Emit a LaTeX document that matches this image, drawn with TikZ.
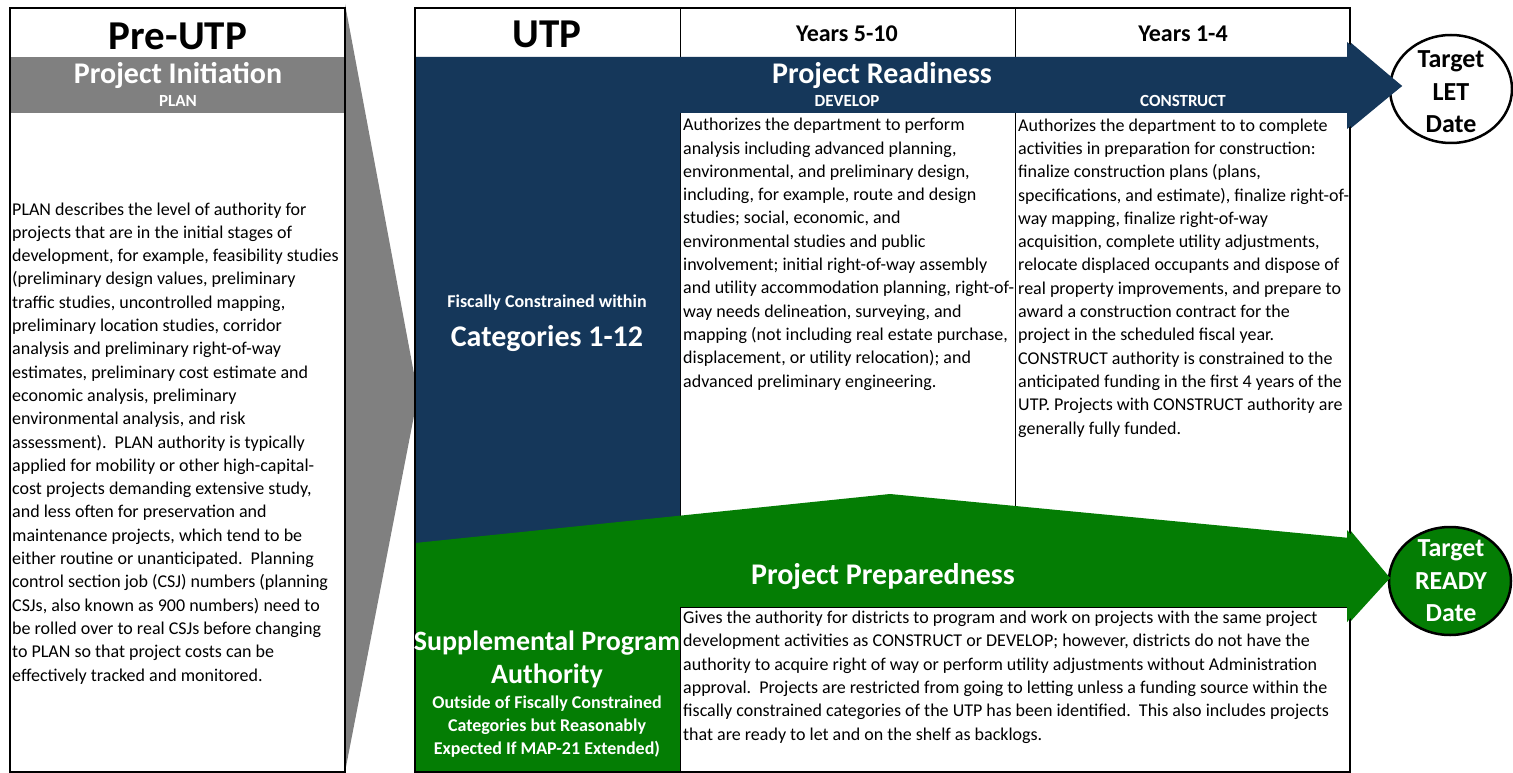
\documentclass[tikz,border=0pt]{standalone}
\usepackage{fontspec}
\setmainfont{Carlito}
\usetikzlibrary{shapes.geometric}
\definecolor{navy}{HTML}{15375A}
\definecolor{grn}{HTML}{047D04}
\definecolor{gry}{HTML}{808080}
\tikzset{
  hdr/.style={font=\bfseries\fontsize{41}{44}\selectfont, anchor=base, inner sep=0},
  yr/.style={font=\bfseries\fontsize{24}{26}\selectfont, anchor=base, inner sep=0},
  big/.style={font=\bfseries\fontsize{30}{32}\selectfont, text=white, anchor=base, inner sep=0},
  tiny/.style={font=\bfseries\fontsize{17}{19}\selectfont, text=white, anchor=base, inner sep=0},
  mid/.style={font=\bfseries\fontsize{18}{23}\selectfont, text=white, anchor=base, inner sep=0},
  body/.style={font=\fontsize{18}{23.3}\selectfont, align=left, anchor=base west, inner sep=0},
  tgt/.style={ellipse, draw=black, line width=2.5pt, minimum width=122pt, minimum height=108pt, inner sep=0},
  tgttxt/.style={font=\bfseries\fontsize{26}{30}\selectfont, anchor=base, inner sep=0},
  frame/.style={draw=black, line width=2.5pt},
  divider/.style={draw=black, line width=1pt}
}
\begin{document}
\begin{tikzpicture}[x=1pt,y=-1pt]
\useasboundingbox (0,0) rectangle (1513,773);

% gray wedge between panels
\fill[gry] (345,4) -- (418,395) -- (345,772) -- cycle;

% ---------- Pre-UTP panel ----------
\fill[white] (10,8) rectangle (345,772);
\fill[gry] (10,57) rectangle (345,113);
\draw[frame] (10,8) rectangle (345,772);
\node[hdr] (preutp) at (178,50) {Pre-UTP};
\node[big] (init) at (178,84) {Project Initiation};
\node[tiny] (plan) at (178,107) {PLAN};
% (base anchor = baseline of the last line)
\node[body] (plantext) at (12,681) {PLAN describes the level of authority for\\
projects that are in the initial stages of\\
development, for example, feasibility studies\\
(preliminary design values, preliminary\\
traffic studies, uncontrolled mapping,\\
preliminary location studies, corridor\\
analysis and preliminary right-of-way\\
estimates, preliminary cost estimate and\\
economic analysis, preliminary\\
environmental analysis, and risk\\
assessment).\ \ PLAN authority is typically\\
applied for mobility or other high-capital-\\
cost projects demanding extensive study,\\
and less often for preservation and\\
maintenance projects, which tend to be\\
either routine or unanticipated.\ \ Planning\\
control section job (CSJ) numbers (planning\\
CSJs, also known as 900 numbers) need to\\
be rolled over to real CSJs before changing\\
to PLAN so that project costs can be\\
effectively tracked and monitored.};

% ---------- UTP panel ----------
\fill[white] (415,8) rectangle (1350,772);
\draw[divider] (680,8) -- (680,560);
\draw[divider] (1015,8) -- (1015,560);

% Target ellipses
\node[tgt, fill=white] (letdate) at (1451,89) {};
\node[tgt, fill=grn] (readydate) at (1450,581) {};

% Project Readiness (blue) arrow
\fill[navy] (415,57) -- (1350,57) -- (1350,42) -- (1402,86) -- (1350,129)
  -- (1350,113) -- (680,113) -- (680,560) -- (415,560) -- cycle;
% Project Preparedness (green) arrow
\fill[grn] (415,543) -- (890,494) -- (1350,538) -- (1350,530) -- (1390,578)
  -- (1350,622) -- (1350,607) -- (680,607) -- (680,772) -- (415,772) -- cycle;
\draw[divider, fill=white] (680,607) rectangle (1350,772);

\draw[frame] (415,8) rectangle (1350,772);
% arrowheads over the frame
\fill[navy] (1347,42) -- (1402,86) -- (1347,129) -- cycle;
\fill[grn] (1347,530) -- (1390,578) -- (1347,622) -- cycle;

% header texts
\node[hdr] (utp) at (547,48) {UTP};
\node[yr] (y510) at (847,42) {Years 5-10};
\node[yr] (y14) at (1183,42) {Years 1-4};

\node[big] (readiness) at (882,84) {Project Readiness};
\node[tiny] (develop) at (847,107) {DEVELOP};
\node[tiny] (construct) at (1183,107) {CONSTRUCT};

\node[mid] (fiscal) at (547,307) {Fiscally Constrained within};
\node[big] (cat) at (547,346) {Categories 1-12};

\node[body] (devtext) at (683,387) {Authorizes the department to perform\\
analysis including advanced planning,\\
environmental, and preliminary design,\\
including, for example, route and design\\
studies; social, economic, and\\
environmental studies and public\\
involvement; initial right-of-way assembly\\
and utility accommodation planning, right-of-\\
way needs delineation, surveying, and\\
mapping (not including real estate purchase,\\
displacement, or utility relocation); and\\
advanced preliminary engineering.};

\node[body] (context) at (1018,434) {Authorizes the department to to complete\\
activities in preparation for construction:\\
finalize construction plans (plans,\\
specifications, and estimate), finalize right-of-\\
way mapping, finalize right-of-way\\
acquisition, complete utility adjustments,\\
relocate displaced occupants and dispose of\\
real property improvements, and prepare to\\
award a construction contract for the\\
project in the scheduled fiscal year.\\
CONSTRUCT authority is constrained to the\\
anticipated funding in the first 4 years of the\\
UTP. Projects with CONSTRUCT authority are\\
generally fully funded.};

\node[big] (preparedness) at (883,584) {Project Preparedness};
\node[big, font=\bfseries\fontsize{28}{30}\selectfont] (supp) at (547,650) {Supplemental Program};
\node[big, font=\bfseries\fontsize{28}{30}\selectfont] (auth) at (547,683) {Authority};
\node[mid] (out1) at (547,708) {Outside of Fiscally Constrained};
\node[mid] (out2) at (547,731) {Categories but Reasonably};
\node[mid] (out3) at (547,754) {Expected If MAP-21 Extended)};

\node[body] (preptext) at (683,740) {Gives the authority for districts to program and work on projects with the same project\\
development activities as CONSTRUCT or DEVELOP; however, districts do not have the\\
authority to acquire right of way or perform utility adjustments without Administration\\
approval.\ \ Projects are restricted from going to letting unless a funding source within the\\
fiscally constrained categories of the UTP has been identified.\ \ This also includes projects\\
that are ready to let and on the shelf as backlogs.};

% target texts
\node[tgttxt] (t1) at (1451,68) {Target};
\node[tgttxt] (t2) at (1451,101) {LET};
\node[tgttxt] (t3) at (1451,133) {Date};
\node[tgttxt, text=white] (r1) at (1451,556) {Target};
\node[tgttxt, text=white] (r2) at (1451,589) {READY};
\node[tgttxt, text=white] (r3) at (1451,621) {Date};
\end{tikzpicture}
\end{document}
